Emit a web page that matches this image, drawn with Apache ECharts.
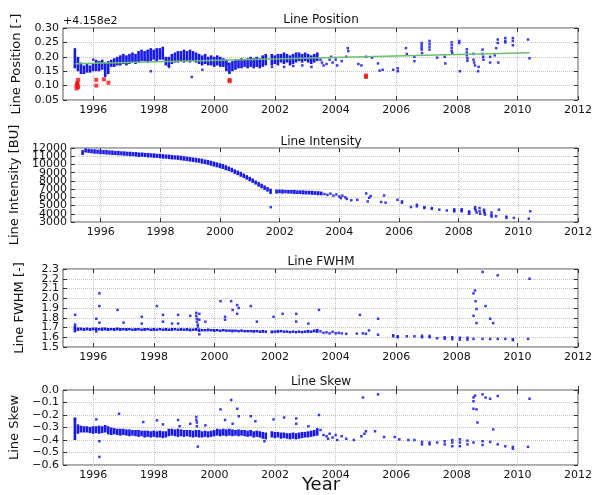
<!DOCTYPE html>
<html>
<head>
<meta charset="utf-8">
<script src="https://cdn.jsdelivr.net/npm/echarts@6/dist/echarts.min.js"></script>
<style>
  html, body { margin: 0; padding: 0; background: #fff; }
  #chart { width: 595px; height: 495px; }
</style>
</head>
<body>
<div id="chart"></div>
<script>
// tick labels
const yearTicks = [1996, 1998, 2000, 2002, 2004, 2006, 2008, 2010, 2012];
const posTicks = [0.05, 0.10, 0.15, 0.20, 0.25, 0.30];
const intTicks = [3000, 4000, 5000, 6000, 7000, 8000, 9000, 10000, 11000, 12000];
const fwhmTicks = [1.5, 1.6, 1.7, 1.8, 1.9, 2.0, 2.1, 2.2, 2.3];
const skewTicks = [-0.6, -0.5, -0.4, -0.3, -0.2, -0.1, 0.0];
const panelTitles = ['Line Position', 'Line Intensity', 'Line FWHM', 'Line Skew'];
const panelYNames = ['Line Position [-]', 'Line Intensity [BU]', 'Line FWHM [-]', 'Line Skew'];

// dense part of each panel: [year, low, high]
const posBand = [
  [1995.4,0.16,0.23],[1995.5,0.15,0.20],[1995.6,0.14,0.18],[1995.7,0.14,0.17],[1995.8,0.145,0.175],
  [1995.9,0.145,0.17],[1996.0,0.15,0.175],[1996.1,0.15,0.19],[1996.2,0.15,0.185],[1996.3,0.155,0.19],
  [1996.4,0.13,0.18],[1996.5,0.14,0.185],[1996.6,0.165,0.19],[1996.7,0.165,0.195],[1996.8,0.17,0.20],
  [1996.9,0.17,0.205],[1997.0,0.175,0.21],[1997.1,0.17,0.205],[1997.2,0.175,0.21],[1997.3,0.18,0.215],
  [1997.4,0.175,0.21],[1997.5,0.18,0.22],[1997.6,0.185,0.225],[1997.7,0.185,0.22],[1997.8,0.18,0.225],
  [1997.9,0.185,0.23],[1998.0,0.19,0.225],[1998.1,0.185,0.23],[1998.2,0.19,0.23],[1998.3,0.19,0.235],
  [1998.4,0.17,0.20],[1998.5,0.165,0.20],[1998.6,0.175,0.21],[1998.7,0.18,0.215],[1998.8,0.18,0.22],
  [1998.9,0.185,0.22],[1999.0,0.18,0.225],[1999.1,0.185,0.22],[1999.2,0.18,0.225],[1999.3,0.185,0.22],
  [1999.4,0.18,0.215],[1999.5,0.175,0.21],[1999.6,0.17,0.205],[1999.7,0.175,0.21],[1999.8,0.17,0.20],
  [1999.9,0.17,0.205],[2000.0,0.165,0.20],[2000.1,0.17,0.205],[2000.2,0.165,0.20],[2000.3,0.165,0.195],
  [2000.4,0.15,0.19],[2000.5,0.14,0.18],[2000.6,0.15,0.185],[2000.7,0.155,0.19],[2000.8,0.16,0.19],
  [2000.9,0.16,0.195],[2001.0,0.165,0.19],[2001.1,0.16,0.195],[2001.2,0.165,0.20],[2001.3,0.16,0.195],
  [2001.4,0.165,0.20],[2001.5,0.16,0.195],[2001.6,0.165,0.205],[2001.7,0.17,0.21],
  [2001.9,0.17,0.21],[2002.0,0.175,0.205],[2002.1,0.17,0.21],[2002.2,0.18,0.21],[2002.3,0.175,0.215],
  [2002.4,0.18,0.21],[2002.5,0.17,0.205],[2002.6,0.175,0.21],[2002.7,0.18,0.215],[2002.8,0.185,0.215],
  [2002.9,0.18,0.21],[2003.0,0.185,0.215],[2003.1,0.18,0.21],[2003.2,0.175,0.205],[2003.3,0.18,0.21],
  [2003.4,0.185,0.215]
];
const posPts = [
  [1996.0,0.19],[1997.9,0.15],[1998.5,0.165],[1999.25,0.13],[1999.6,0.155],[2000.45,0.175],[2001.9,0.165],
  [2002.3,0.165],[2002.6,0.168],[2002.9,0.17],[2003.2,0.165],[2003.5,0.19],[2003.55,0.18],[2003.6,0.17],
  [2003.7,0.175],[2003.8,0.19],[2003.85,0.2],[2003.9,0.18],[2004.0,0.19],[2004.05,0.17],[2004.2,0.185],
  [2004.35,0.2],[2004.4,0.23],[2004.42,0.22],[2004.75,0.175],[2004.85,0.17],[2005.0,0.2],[2005.2,0.197],
  [2005.4,0.177],[2005.45,0.152],[2005.55,0.155],[2005.9,0.155],[2006.05,0.16],[2006.05,0.15],[2006.32,0.23],
  [2006.35,0.21],[2006.6,0.2],[2006.6,0.185],[2006.84,0.248],[2006.84,0.24],[2006.84,0.232],[2006.84,0.225],
  [2006.85,0.213],[2007.1,0.255],[2007.1,0.245],[2007.1,0.235],[2007.1,0.225],[2007.35,0.197],[2007.6,0.2],
  [2007.62,0.177],[2007.83,0.25],[2007.83,0.24],[2007.83,0.23],[2007.83,0.22],[2007.85,0.213],[2008.08,0.255],
  [2008.08,0.248],[2008.1,0.15],[2008.33,0.226],[2008.33,0.215],[2008.33,0.205],[2008.35,0.195],[2008.35,0.186],
  [2008.55,0.21],[2008.55,0.19],[2008.57,0.18],[2008.6,0.17],[2008.7,0.15],[2008.72,0.165],[2008.85,0.225],
  [2008.85,0.21],[2008.87,0.2],[2008.88,0.19],[2009.1,0.2],[2009.1,0.18],[2009.25,0.205],[2009.3,0.23],
  [2009.35,0.26],[2009.35,0.248],[2009.37,0.18],[2009.6,0.265],[2009.6,0.255],[2009.6,0.25],[2009.85,0.265],
  [2009.85,0.255],[2009.85,0.24],[2010.35,0.26],[2010.4,0.195]
];
const posRed = [
  [1995.45,0.09],[1995.45,0.1],[1995.47,0.11],[1995.5,0.12],[1995.5,0.095],[1995.48,0.105],[1996.1,0.12],
  [1996.1,0.1],[1996.35,0.122],[1996.5,0.11],[2000.5,0.12],[2000.5,0.115],[2005.0,0.13],[2005.0,0.135]
];
const posFit = [[1995.4,0.176],[2010.4,0.214]];

const intBand = [
  [1995.4,11150,11750],[1995.5,11450,11950],[1995.6,11400,11900],[1995.7,11350,11850],[1995.8,11300,11850],
  [1995.9,11300,11800],[1996.0,11250,11800],[1996.1,11250,11750],[1996.2,11200,11750],[1996.3,11200,11700],
  [1996.4,11150,11700],[1996.5,11150,11650],[1996.6,11100,11650],[1996.7,11100,11600],[1996.8,11050,11600],
  [1996.9,11050,11550],[1997.0,11000,11550],[1997.1,11000,11500],[1997.2,10950,11500],[1997.3,10900,11450],
  [1997.4,10950,11450],[1997.5,10900,11400],[1997.6,10850,11400],[1997.7,10850,11350],[1997.8,10800,11350],
  [1997.9,10800,11300],[1998.0,10750,11300],[1998.1,10700,11250],[1998.2,10700,11200],[1998.3,10650,11200],
  [1998.4,10600,11150],[1998.5,10600,11100],[1998.6,10550,11100],[1998.7,10500,11050],[1998.8,10450,11000],
  [1998.9,10400,10950],[1999.0,10350,10900],[1999.1,10300,10850],[1999.2,10250,10800],[1999.3,10200,10750],
  [1999.4,10100,10700],[1999.5,10050,10600],[1999.6,9950,10550],[1999.7,9850,10450],[1999.8,9750,10350],
  [1999.9,9650,10250],[2000.0,9550,10150],[2000.1,9450,10050],[2000.2,9300,9900],[2000.3,9200,9750],
  [2000.4,9050,9600],[2000.5,8850,9400],[2000.6,8700,9250],[2000.7,8500,9100],[2000.8,8350,8900],
  [2000.9,8150,8700],[2001.0,7950,8500],[2001.1,7750,8300],[2001.2,7550,8050],[2001.3,7300,7850],
  [2001.4,7100,7650],[2001.5,6900,7450],[2001.6,6700,7250],[2001.7,6400,7050],
  [2001.9,6450,6950],[2002.0,6500,6950],[2002.1,6450,6950],[2002.2,6500,6900],[2002.3,6450,6900],
  [2002.4,6450,6900],[2002.5,6400,6900],[2002.6,6400,6850],[2002.7,6400,6850],[2002.8,6350,6850],
  [2002.9,6350,6800],[2003.0,6350,6800],[2003.1,6300,6800],[2003.2,6300,6750],[2003.3,6250,6750],
  [2003.4,6250,6700]
];
const intPts = [
  [2001.7,4800],[2003.5,6400],[2003.6,6300],[2003.7,6450],[2003.8,6200],[2003.9,6350],[2004.0,6100],
  [2004.05,5900],[2004.1,6200],[2004.2,6000],[2004.25,5800],[2004.4,5640],[2004.6,5700],[2004.9,6470],
  [2005.0,5950],[2004.95,5500],[2005.05,6150],[2005.5,6220],[2005.4,5430],[2005.55,5350],[2005.95,5700],
  [2006.1,5500],[2006.1,5350],[2006.4,4820],[2006.6,5100],[2006.6,4900],[2006.85,4700],[2006.85,4800],
  [2007.1,4700],[2007.1,4600],[2007.35,4500],[2007.6,4400],[2007.85,4550],[2007.85,4400],[2007.85,4290],
  [2008.1,4550],[2008.1,4400],[2008.1,4300],[2008.35,4290],[2008.35,4150],[2008.35,4000],[2008.55,4800],
  [2008.55,4600],[2008.57,4400],[2008.6,4150],[2008.7,4700],[2008.7,4300],[2008.72,4000],[2008.85,4500],
  [2008.85,4300],[2008.87,4100],[2008.88,3900],[2009.1,4150],[2009.1,3850],[2009.1,3650],[2009.25,3700],
  [2009.35,4500],[2009.6,3650],[2009.6,3500],[2009.85,3500],[2010.35,3400],[2010.4,4300]
];

const fwhmBand = [
  [1995.4,1.65,1.72],[1995.5,1.665,1.70],[1995.6,1.67,1.70],[1995.7,1.665,1.695],[1995.8,1.67,1.70],
  [1995.9,1.665,1.695],[1996.0,1.67,1.70],[1996.1,1.665,1.70],[1996.2,1.67,1.695],[1996.3,1.665,1.70],
  [1996.4,1.67,1.70],[1996.5,1.665,1.695],[1996.6,1.67,1.695],[1996.7,1.665,1.695],[1996.8,1.67,1.70],
  [1996.9,1.665,1.695],[1997.0,1.67,1.695],[1997.1,1.665,1.695],[1997.2,1.67,1.695],[1997.3,1.665,1.69],
  [1997.4,1.665,1.695],[1997.5,1.67,1.695],[1997.6,1.665,1.69],[1997.7,1.665,1.695],[1997.8,1.67,1.695],
  [1997.9,1.665,1.69],[1998.0,1.665,1.695],[1998.1,1.665,1.69],[1998.2,1.67,1.695],[1998.3,1.665,1.69],
  [1998.4,1.665,1.695],[1998.5,1.665,1.69],[1998.6,1.665,1.695],[1998.7,1.67,1.695],[1998.8,1.665,1.69],
  [1998.9,1.665,1.695],[1999.0,1.665,1.69],[1999.1,1.665,1.695],[1999.2,1.66,1.69],[1999.3,1.665,1.69],
  [1999.4,1.665,1.695],[1999.5,1.655,1.69],[1999.6,1.66,1.685],[1999.7,1.66,1.685],[1999.8,1.66,1.69],
  [1999.9,1.66,1.685],[2000.0,1.655,1.685],[2000.1,1.66,1.685],[2000.2,1.655,1.68],[2000.3,1.66,1.685],
  [2000.4,1.655,1.68],[2000.5,1.655,1.68],[2000.6,1.65,1.68],[2000.7,1.655,1.68],[2000.8,1.65,1.675],
  [2000.9,1.655,1.68],[2001.0,1.65,1.675],[2001.1,1.65,1.675],[2001.2,1.65,1.675],[2001.3,1.645,1.675],
  [2001.4,1.65,1.675],[2001.5,1.645,1.67],[2001.6,1.645,1.675],[2001.7,1.645,1.67],
  [2001.9,1.64,1.67],[2002.0,1.645,1.67],[2002.1,1.645,1.675],[2002.2,1.65,1.675],[2002.3,1.645,1.67],
  [2002.4,1.645,1.67],[2002.5,1.64,1.665],[2002.6,1.645,1.67],[2002.7,1.64,1.665],[2002.8,1.645,1.67],
  [2002.9,1.64,1.665],[2003.0,1.645,1.67],[2003.1,1.645,1.675],[2003.2,1.645,1.67],[2003.3,1.65,1.68],
  [2003.4,1.645,1.685]
];
const fwhmPts = [
  [1995.4,1.83],[1995.4,1.73],[1996.1,1.79],[1996.2,2.05],[1996.2,1.92],[1996.2,1.75],[1996.1,1.66],
  [1996.8,1.88],[1997.0,1.75],[1997.6,1.81],[1997.6,1.74],[1998.1,1.92],[1998.3,1.83],[1998.3,1.76],
  [1998.6,1.74],[1998.8,1.83],[1998.8,1.74],[1999.2,1.82],[1999.4,1.85],[1999.4,1.82],[1999.42,1.79],
  [1999.42,1.76],[1999.45,1.73],[1999.45,1.71],[1999.5,1.84],[1999.5,1.78],[1999.5,1.63],[1999.7,1.76],
  [2000.2,1.97],[2000.35,1.81],[2000.35,1.78],[2000.55,1.97],[2000.6,1.88],[2000.75,1.93],[2000.75,1.84],
  [2000.8,1.9],[2001.2,1.92],[2001.4,1.76],[2001.95,1.81],[2002.25,1.84],[2002.7,1.84],[2002.7,1.76],
  [2003.1,1.74],[2003.45,1.88],[2003.5,1.66],[2003.6,1.645],[2003.7,1.65],[2003.8,1.64],[2003.9,1.655],
  [2004.0,1.64],[2004.1,1.645],[2004.2,1.64],[2004.35,1.635],[2004.7,1.637],[2004.8,1.83],[2004.9,1.64],
  [2005.0,1.635],[2005.1,1.67],[2005.4,1.79],[2005.4,1.626],[2005.9,1.62],[2005.9,1.61],[2006.05,1.61],
  [2006.05,1.6],[2006.35,1.61],[2006.6,1.61],[2006.85,1.615],[2006.85,1.6],[2007.1,1.615],[2007.1,1.6],
  [2007.35,1.59],[2007.6,1.6],[2007.6,1.585],[2007.85,1.6],[2007.85,1.58],[2008.1,1.595],[2008.1,1.575],
  [2008.35,1.595],[2008.35,1.575],[2008.55,2.05],[2008.6,2.08],[2008.62,1.97],[2008.65,1.89],[2008.55,1.82],
  [2008.65,1.745],[2008.55,1.583],[2008.85,2.27],[2008.85,1.583],[2008.95,1.92],[2009.1,1.79],[2009.2,1.745],
  [2009.1,1.583],[2009.35,2.235],[2009.35,1.583],[2009.6,1.583],[2009.85,1.58],[2009.85,1.57],[2010.35,1.583],
  [2010.4,2.2]
];

const skewBand = [
  [1995.4,-0.40,-0.22],[1995.5,-0.35,-0.275],[1995.6,-0.34,-0.285],[1995.7,-0.34,-0.29],[1995.8,-0.34,-0.29],
  [1995.9,-0.345,-0.295],[1996.0,-0.35,-0.29],[1996.1,-0.345,-0.29],[1996.2,-0.35,-0.285],[1996.3,-0.345,-0.29],
  [1996.4,-0.34,-0.28],[1996.5,-0.355,-0.29],[1996.6,-0.36,-0.30],[1996.7,-0.355,-0.305],[1996.8,-0.36,-0.31],
  [1996.9,-0.365,-0.31],[1997.0,-0.36,-0.31],[1997.1,-0.365,-0.315],[1997.2,-0.37,-0.315],[1997.3,-0.365,-0.32],
  [1997.4,-0.37,-0.32],[1997.5,-0.375,-0.32],[1997.6,-0.37,-0.325],[1997.7,-0.38,-0.325],[1997.8,-0.375,-0.325],
  [1997.9,-0.38,-0.33],[1998.0,-0.375,-0.325],[1998.1,-0.38,-0.33],[1998.2,-0.38,-0.325],[1998.3,-0.385,-0.33],
  [1998.4,-0.38,-0.33],[1998.5,-0.37,-0.31],[1998.6,-0.365,-0.31],[1998.7,-0.37,-0.315],[1998.8,-0.375,-0.31],
  [1998.9,-0.37,-0.315],[1999.0,-0.375,-0.32],[1999.1,-0.37,-0.32],[1999.2,-0.375,-0.32],[1999.3,-0.38,-0.325],
  [1999.4,-0.375,-0.32],[1999.5,-0.38,-0.32],[1999.6,-0.38,-0.33],[1999.7,-0.375,-0.325],[1999.8,-0.38,-0.33],
  [1999.9,-0.375,-0.325],[2000.0,-0.37,-0.32],[2000.1,-0.365,-0.31],[2000.2,-0.37,-0.315],[2000.3,-0.365,-0.31],
  [2000.4,-0.37,-0.315],[2000.5,-0.365,-0.31],[2000.6,-0.37,-0.315],[2000.7,-0.365,-0.32],[2000.8,-0.37,-0.315],
  [2000.9,-0.365,-0.32],[2001.0,-0.37,-0.32],[2001.1,-0.375,-0.325],[2001.2,-0.37,-0.32],[2001.3,-0.38,-0.33],
  [2001.4,-0.375,-0.325],[2001.5,-0.38,-0.33],[2001.6,-0.39,-0.335],[2001.7,-0.395,-0.34],
  [2001.9,-0.38,-0.33],[2002.0,-0.385,-0.335],[2002.1,-0.38,-0.335],[2002.2,-0.39,-0.34],[2002.3,-0.385,-0.34],
  [2002.4,-0.39,-0.345],[2002.5,-0.395,-0.345],[2002.6,-0.39,-0.34],[2002.7,-0.395,-0.345],[2002.8,-0.39,-0.34],
  [2002.9,-0.385,-0.335],[2003.0,-0.38,-0.335],[2003.1,-0.38,-0.33],[2003.2,-0.375,-0.325],[2003.3,-0.37,-0.32],
  [2003.4,-0.365,-0.305]
];
const skewPts = [
  [1995.4,-0.235],[1996.1,-0.235],[1996.2,-0.41],[1996.2,-0.535],[1996.85,-0.19],[1997.65,-0.256],[1998.1,-0.243],
  [1998.3,-0.275],[1998.8,-0.24],[1998.85,-0.29],[1999.2,-0.27],[1999.4,-0.216],[1999.4,-0.24],[1999.42,-0.26],
  [1999.42,-0.29],[1999.45,-0.453],[1999.7,-0.283],[2000.2,-0.155],[2000.35,-0.24],[2000.55,-0.08],[2000.6,-0.27],
  [2000.75,-0.15],[2000.8,-0.21],[2001.2,-0.21],[2001.35,-0.25],[2001.65,-0.41],[2001.95,-0.235],[2002.3,-0.22],
  [2002.7,-0.227],[2002.7,-0.27],[2003.1,-0.29],[2003.45,-0.2],[2003.5,-0.32],[2003.6,-0.36],[2003.7,-0.37],
  [2003.75,-0.39],[2003.8,-0.35],[2003.9,-0.38],[2004.0,-0.36],[2004.05,-0.4],[2004.2,-0.37],[2004.35,-0.39],
  [2004.6,-0.4],[2004.85,-0.37],[2004.9,-0.06],[2004.95,-0.35],[2005.0,-0.33],[2005.3,-0.33],[2005.4,-0.035],
  [2005.6,-0.376],[2005.95,-0.376],[2006.1,-0.395],[2006.4,-0.4],[2006.6,-0.4],[2006.85,-0.415],[2006.85,-0.435],
  [2007.1,-0.42],[2007.1,-0.435],[2007.35,-0.42],[2007.6,-0.41],[2007.6,-0.435],[2007.85,-0.4],[2007.85,-0.42],
  [2007.85,-0.45],[2008.1,-0.395],[2008.1,-0.42],[2008.1,-0.45],[2008.35,-0.405],[2008.35,-0.435],[2008.55,-0.06],
  [2008.55,-0.09],[2008.6,-0.045],[2008.55,-0.15],[2008.65,-0.155],[2008.68,-0.26],[2008.55,-0.42],[2008.85,-0.41],
  [2008.85,-0.44],[2008.85,-0.035],[2008.95,-0.06],[2009.1,-0.07],[2009.2,-0.315],[2009.1,-0.415],[2009.35,-0.048],
  [2009.35,-0.435],[2009.6,-0.45],[2009.85,-0.455],[2009.85,-0.47],[2010.35,-0.455],[2010.4,-0.07]
];

const FONT = 'DejaVu Sans';
const BLUE = '#1a1ae6';
const grids = [
  { left: 63, right: 16, top: 28, height: 72 },
  { left: 63, right: 16, top: 148, height: 74 },
  { left: 63, right: 16, top: 269, height: 78 },
  { left: 63, right: 16, top: 390, height: 75 }
];
const yRanges = [
  { ticks: posTicks, interval: 0.05, fmt: v => v.toFixed(2) },
  { ticks: intTicks, interval: 1000, fmt: v => String(Math.round(v)) },
  { ticks: fwhmTicks, interval: 0.1, fmt: v => v.toFixed(1) },
  { ticks: skewTicks, interval: 0.1, fmt: v => (Math.abs(v) < 1e-9 ? '0.0' : '\u2212' + Math.abs(v).toFixed(1)) }
];
const titleTops = [14, 136, 256, 376];

function bandItem(params, api) {
  const x = api.value(0);
  const lo = api.coord([x, api.value(1)]);
  const hi = api.coord([x, api.value(2)]);
  const w = api.size([0.1, 0])[0];
  return {
    type: 'rect',
    shape: { x: lo[0] - w / 2, y: hi[1], width: Math.max(1, w - 0.4), height: Math.max(2, lo[1] - hi[1]) },
    style: { fill: BLUE }
  };
}

const gridLine = { show: true, lineStyle: { color: '#c4c4c4', type: 'dotted', width: 1 } };
const tickStyle = { color: '#333' };
const labelStyle = { fontFamily: FONT, fontSize: 11, color: '#111' };

// axes 0..3: main; 4..7: top/right ticks; y 8..11: odd tick labels (so dense labels are not culled)
const xAxis = [];
const yAxis = [];
grids.forEach((g, i) => {
  xAxis.push({
    type: 'value', gridIndex: i, min: 1995, max: 2012,
    axisLine: { show: false },
    axisTick: { show: true, inside: true, length: 4, customValues: yearTicks, lineStyle: tickStyle },
    axisLabel: Object.assign({ customValues: yearTicks, formatter: v => String(v), margin: 5 }, labelStyle),
    splitLine: gridLine
  });
  const r = yRanges[i];
  yAxis.push({
    type: 'value', gridIndex: i,
    min: r.ticks[0], max: r.ticks[r.ticks.length - 1], interval: r.interval,
    name: panelYNames[i], nameLocation: 'middle', nameGap: 37, nameRotate: 90,
    nameTextStyle: { fontFamily: FONT, fontSize: 13, color: '#111' },
    axisLine: { show: false },
    axisTick: { show: true, inside: true, length: 4, customValues: r.ticks, lineStyle: tickStyle },
    axisLabel: Object.assign({
      customValues: r.ticks.filter((t, k) => k % 2 === 0), formatter: r.fmt, margin: 4,
      showMinLabel: true, showMaxLabel: true
    }, labelStyle),
    splitLine: gridLine
  });
});
grids.forEach((g, i) => {
  const r = yRanges[i];
  xAxis.push({
    type: 'value', gridIndex: i, position: 'top', min: 1995, max: 2012,
    axisLine: { show: false }, axisLabel: { show: false }, splitLine: { show: false },
    axisTick: { show: true, inside: true, length: 4, customValues: yearTicks, lineStyle: tickStyle }
  });
  yAxis.push({
    type: 'value', gridIndex: i, position: 'right',
    min: r.ticks[0], max: r.ticks[r.ticks.length - 1], interval: r.interval,
    axisLine: { show: false }, axisLabel: { show: false }, splitLine: { show: false },
    axisTick: { show: true, inside: true, length: 4, customValues: r.ticks, lineStyle: tickStyle }
  });
});
grids.forEach((g, i) => {
  const r = yRanges[i];
  yAxis.push({
    type: 'value', gridIndex: i, position: 'left', offset: 0,
    min: r.ticks[0], max: r.ticks[r.ticks.length - 1], interval: r.interval,
    axisLine: { show: false }, axisTick: { show: false }, splitLine: { show: false },
    axisLabel: Object.assign({
      customValues: r.ticks.filter((t, k) => k % 2 === 1), formatter: r.fmt, margin: 4,
      showMinLabel: true, showMaxLabel: true
    }, labelStyle)
  });
});

const bands = [posBand, intBand, fwhmBand, skewBand];
const pts = [posPts, intPts, fwhmPts, skewPts];
const series = [];
bands.forEach((b, i) => {
  series.push({
    type: 'custom', xAxisIndex: i, yAxisIndex: i, data: b,
    encode: { x: 0, y: [1, 2] }, renderItem: bandItem, silent: true, z: 2
  });
  series.push({
    type: 'scatter', xAxisIndex: i, yAxisIndex: i, data: pts[i],
    symbol: 'rect', symbolSize: [2.5, 2.5], itemStyle: { color: BLUE, opacity: 0.85 }, silent: true, z: 3
  });
});
series.push({
  type: 'scatter', xAxisIndex: 0, yAxisIndex: 0, data: posRed,
  symbol: 'rect', symbolSize: [4, 4], itemStyle: { color: '#f01010' }, silent: true, z: 5
});
series.push({
  type: 'line', xAxisIndex: 0, yAxisIndex: 0, data: posFit,
  showSymbol: false, lineStyle: { color: '#6cbf6c', width: 1.5 }, silent: true, z: 4
});

const chart = echarts.init(document.getElementById('chart'), null, { renderer: 'canvas' });
chart.setOption({
  animation: false,
  backgroundColor: '#fff',
  title: panelTitles.map((t, i) => ({
    text: t, left: 321, top: titleTops[i], textAlign: 'center', padding: 0,
    textStyle: { fontFamily: FONT, fontSize: 12, fontWeight: 'normal', color: '#111' }
  })),
  grid: grids.map(g => Object.assign({ show: true, borderColor: '#555', borderWidth: 1, backgroundColor: 'transparent' }, g)),
  xAxis: xAxis,
  yAxis: yAxis,
  series: series,
  graphic: [
    { type: 'text', left: 63, top: 16, style: { text: '+4.158e2', fontFamily: FONT, fontSize: 11, fill: '#111' } },
    { type: 'text', left: 302, top: 476, style: { text: 'Year', fontFamily: FONT, fontSize: 18, fill: '#111' } }
  ]
});
</script>
</body>
</html>
